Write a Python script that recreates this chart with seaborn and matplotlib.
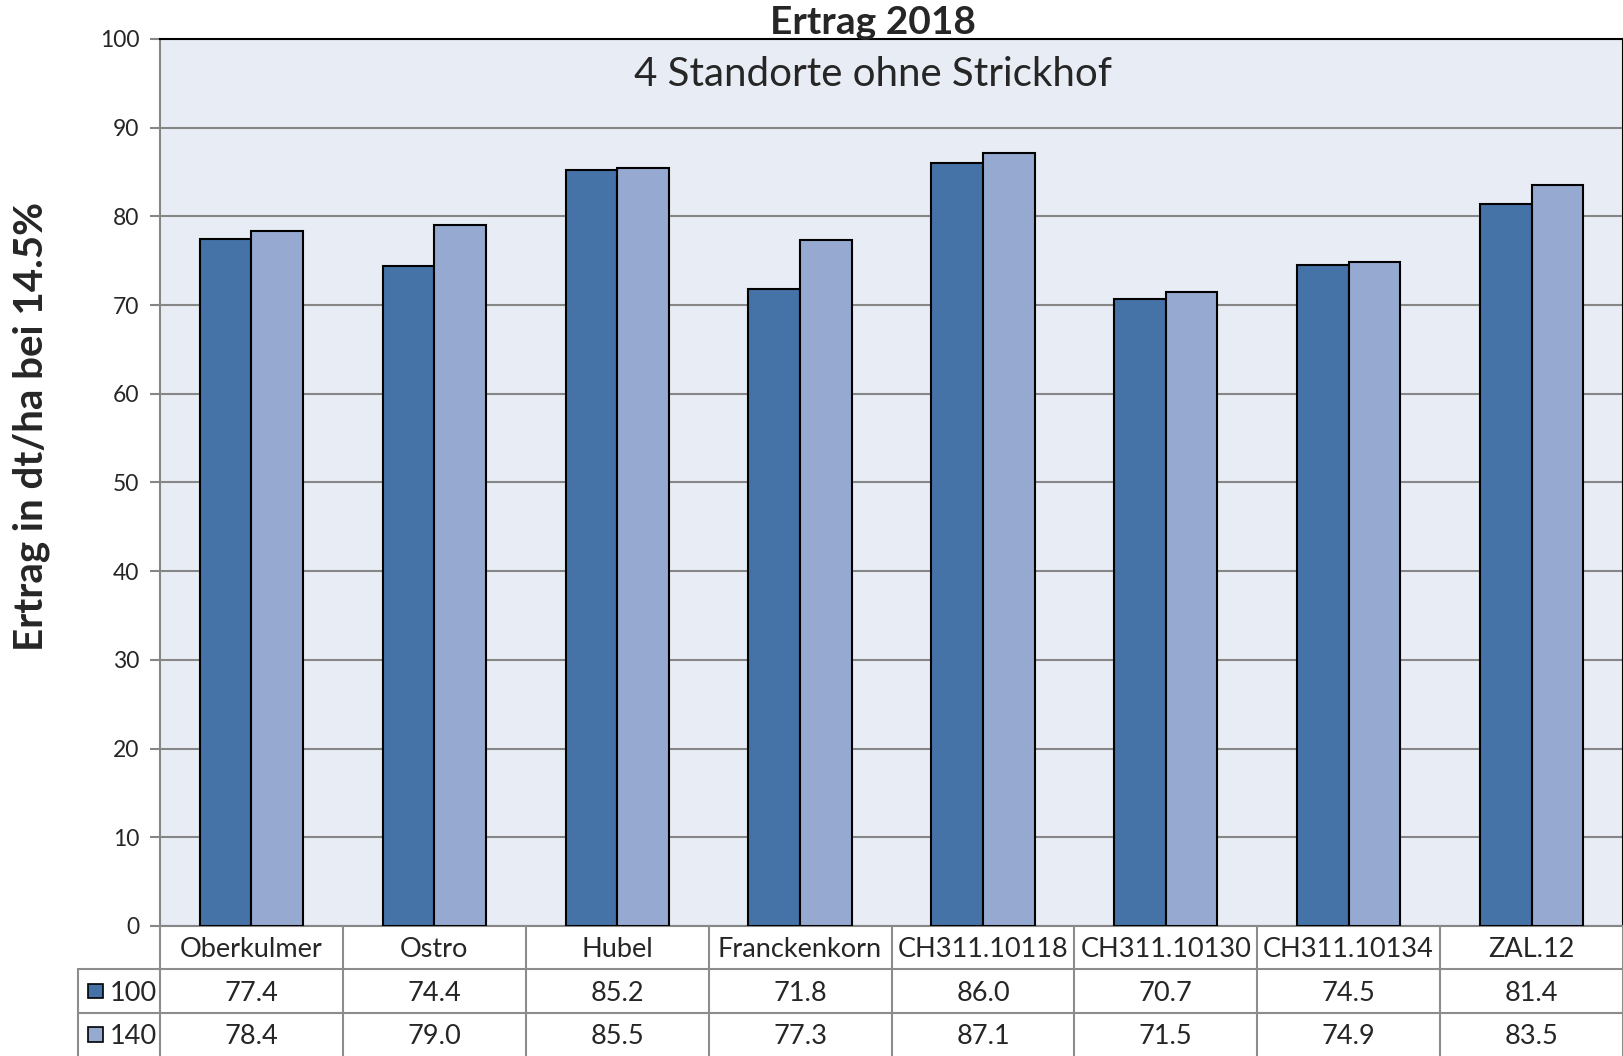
import numpy as np
import pandas as pd
import matplotlib
matplotlib.use("Agg")
import matplotlib.pyplot as plt
import seaborn as sns

# data
sorten = ["Oberkulmer", "Ostro", "Hubel", "Franckenkorn", "CH311.10118",
          "CH311.10130", "CH311.10134", "ZAL.12"]
serien = ["100", "140"]
ertrag_100 = [77.4, 74.4, 85.2, 71.8, 86.0, 70.7, 74.5, 81.4]
ertrag_140 = [78.4, 79.0, 85.5, 77.3, 87.1, 71.5, 74.9, 83.5]
farben = ["#4673A7", "#95A9D1"]

df = pd.DataFrame({
    "Sorte": sorten * 2,
    "Serie": [serien[0]] * len(sorten) + [serien[1]] * len(sorten),
    "Ertrag": ertrag_100 + ertrag_140,
})

sns.set_style("white")
plt.rcParams["font.family"] = ["Lato", "DejaVu Sans"]

fig = plt.figure(figsize=(16.23, 10.56), dpi=100)
ax = fig.add_axes([160 / 1623, 130 / 1056, 1463 / 1623, 887 / 1056])
ax.set_facecolor("#E8ECF4")

sns.barplot(data=df, x="Sorte", y="Ertrag", hue="Serie", order=sorten,
            hue_order=serien, palette=farben, width=0.565, gap=0,
            edgecolor="black", linewidth=1.5, saturation=1, ax=ax,
            legend=False, zorder=3)

ax.set_ylim(0, 100)
ax.set_xlim(-0.5, len(sorten) - 0.5)
ax.set_yticks(np.arange(0, 101, 10))
ax.yaxis.grid(True, color="#868686", linewidth=1.5, zorder=0)
ax.set_axisbelow(True)
ax.tick_params(axis="y", labelsize=16.5, length=7, width=1.5, color="#868686",
               left=True, pad=8)
ax.set_xticks([])
ax.set_xlabel("")
ax.set_ylabel("")
for s in ["left", "bottom"]:
    ax.spines[s].set_color("#868686")
    ax.spines[s].set_linewidth(1.5)
for s in ["top", "right"]:
    ax.spines[s].set_color("black")
    ax.spines[s].set_linewidth(1.5)

fig.text(0.538, 0.979, "Ertrag 2018", ha="center", va="center",
         fontsize=28, fontweight="bold")
fig.text(0.538, 0.9294, "4 Standorte ohne Strickhof", ha="center",
         va="center", fontsize=29)
fig.text(0.0195, 0.596, "Ertrag in dt/ha bei 14.5%", ha="center", va="center",
         rotation=90, fontsize=29, fontweight="bold")

# data table below the chart
tab = fig.add_axes([160 / 1623, 0, 1463 / 1623, 130 / 1056])
tab.set_xlim(-0.5, len(sorten) - 0.5)
tab.set_ylim(0, 3)
tab.axis("off")
links = -0.5 - 82 / (1463 / len(sorten))
lc = "#8C8C8C"
for i in range(len(sorten) + 1):
    tab.plot([i - 0.5, i - 0.5], [0, 3], color=lc, lw=1.5, clip_on=False)
for yy in [1, 2]:
    tab.plot([links, len(sorten) - 0.5], [yy, yy], color=lc, lw=1.5,
             clip_on=False)
tab.plot([links, links], [0, 2], color=lc, lw=1.5, clip_on=False)

for i, name in enumerate(sorten):
    tab.text(i, 2.45, name, ha="center", va="center", fontsize=19.5)
    tab.text(i, 1.45, f"{ertrag_100[i]:.1f}", ha="center", va="center",
             fontsize=19.5)
    tab.text(i, 0.45, f"{ertrag_140[i]:.1f}", ha="center", va="center",
             fontsize=19.5)

kx = links + 10 / 183
for yy, lab, col in [(1.5, serien[0], farben[0]), (0.5, serien[1], farben[1])]:
    tab.add_patch(plt.Rectangle((kx, yy - 0.17), 15 / 183, 0.34,
                                facecolor=col, edgecolor="black", lw=1.2,
                                clip_on=False))
    tab.text(links + 32 / 183, yy - 0.05, lab, ha="left", va="center",
             fontsize=19.5)

fig.savefig("out.png", dpi=100)
